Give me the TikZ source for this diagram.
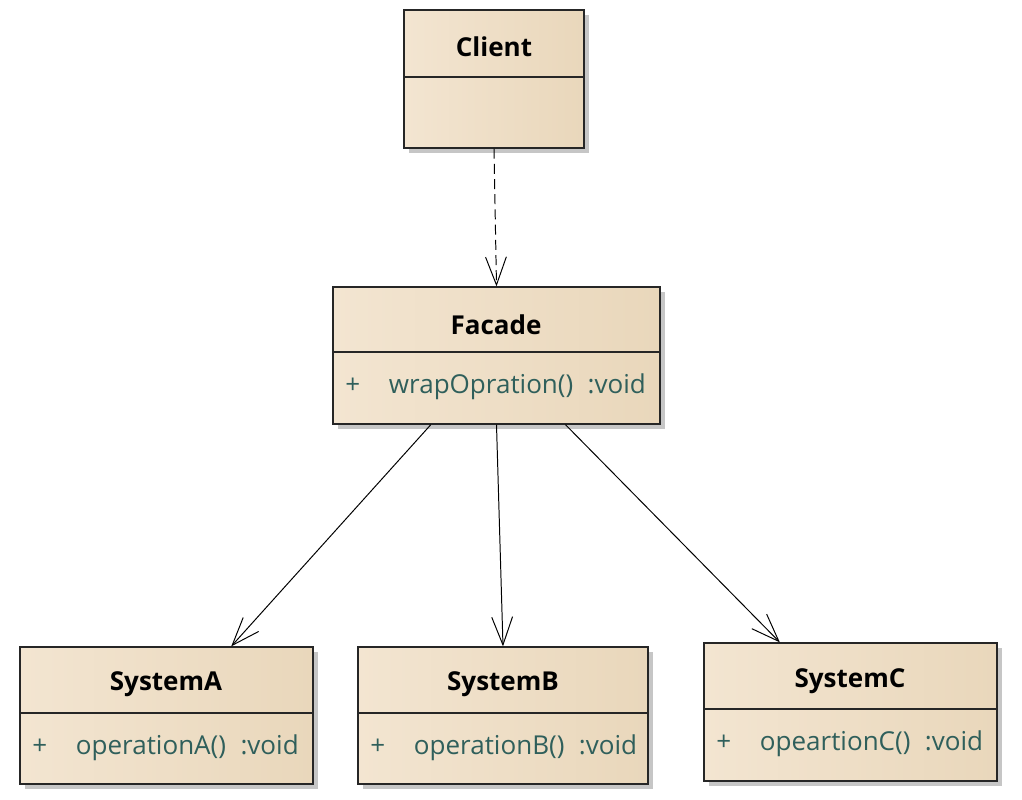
\documentclass[tikz,border=0pt]{standalone}
\usepackage{fontspec}
\setmainfont{Open Sans}
\usepackage{tikz}
\usetikzlibrary{positioning,arrows.meta,fit,shadows,calc}
\usepackage{xcolor}

\definecolor{clsleft}{HTML}{F3E5D1}
\definecolor{clsmid}{HTML}{FCF6EE}
\definecolor{clsright}{HTML}{E9D7BB}
\definecolor{membtext}{HTML}{2F5F5B}

\begin{document}
\begin{tikzpicture}[x=0.025cm,y=-0.025cm,>={Straight Barb[length=7mm,width=5.2mm]},
  cls/.style={draw=black!85,line width=0.9pt,inner sep=0pt,left color=clsleft,middle color=clsmid,right color=clsright,drop shadow={shadow xshift=0.12cm,shadow yshift=-0.12cm,fill=black!28,opacity=0.8}},
  divline/.style={draw=black!85,line width=0.9pt},
  clsname/.style={font=\fontsize{18.5}{22}\selectfont\bfseries},
  clsop/.style={anchor=west,inner sep=0pt,text=membtext,font=\fontsize{18.5}{22}\selectfont},
  dep/.style={->,dash pattern=on 0.25cm off 0.13cm,line width=0.7pt},
  assoc/.style={->,line width=0.7pt}]
\useasboundingbox (0,0) rectangle (1022,800);

% Client
\node[cls,fit={(404,10) (584,148)}] (client) {};
\draw[divline] (404,77) -- (584,77);
\node[clsname] (clientname) at (494,47) {Client};

% Facade
\node[cls,fit={(333,287) (660,424)}] (facade) {};
\draw[divline] (333,352) -- (660,352);
\node[clsname] (facadename) at (496,325) {Facade};
\node[clsop] (facadeop) at (345,387) {+\hspace{0.72cm}wrapOpration()\hspace{0.36cm}:void};

% subsystems
\node[cls,fit={(20,647) (313,784)}] (sysA) {};
\draw[divline] (20,713) -- (313,713);
\node[clsname] (sysAname) at (166,684) {SystemA};
\node[clsop] (sysAop) at (32,748) {+\hspace{0.72cm}operationA()\hspace{0.36cm}:void};

\node[cls,fit={(358,647) (648,784)}] (sysB) {};
\draw[divline] (358,713) -- (648,713);
\node[clsname] (sysBname) at (503,684) {SystemB};
\node[clsop] (sysBop) at (370,748) {+\hspace{0.72cm}operationB()\hspace{0.36cm}:void};

\node[cls,fit={(704,643) (997,781)}] (sysC) {};
\draw[divline] (704,709) -- (997,709);
\node[clsname] (sysCname) at (850,681) {SystemC};
\node[clsop] (sysCop) at (716,744) {+\hspace{0.72cm}opeartionC()\hspace{0.36cm}:void};

% connectors
\draw[dep] (client.south) -- (facade.north);
\draw[assoc] ($(facade.south west)!0.3!(facade.south east)$) -- ($(sysA.north west)!0.72!(sysA.north east)$);
\draw[assoc] (facade.south) -- (sysB.north);
\draw[assoc] ($(facade.south west)!0.71!(facade.south east)$) -- ($(sysC.north west)!0.26!(sysC.north east)$);
\end{tikzpicture}
\end{document}
